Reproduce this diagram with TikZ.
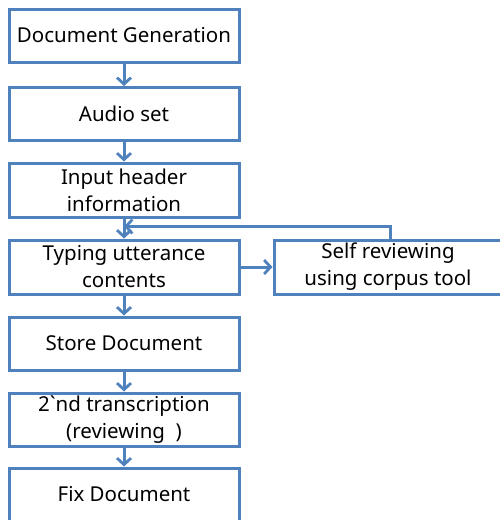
\documentclass[tikz,border=0pt]{standalone}
\usepackage{fontspec}
\setmainfont{Noto Sans}
% same face without the TeX quote mapping, so a grave accent prints as typed
\newfontfamily\plainsans{Noto Sans}[Ligatures=TeXOff]
\usetikzlibrary{arrows.meta}
\definecolor{flowblue}{RGB}{79,129,189}
\tikzset{
  stepbox/.style={draw=flowblue, line width=3pt, fill=white, minimum width=230pt,
    minimum height=53pt, inner sep=0pt, align=center,
    font=\fontsize{20.5}{27}\selectfont},
  flow/.style={draw=flowblue, line width=3pt,
    -{Straight Barb[length=6.5pt,width=14pt,line width=2.8pt]}}
}
\begin{document}
\begin{tikzpicture}[x=1pt,y=-1pt]
\useasboundingbox (0,0) rectangle (500,520);
\node[stepbox] (gen)   at (124,35.5) {Document Generation};
\node[stepbox] (audio) at (124,114) {Audio set};
\node[stepbox, minimum height=54pt] (head) at (124,190) {Input header\\information};
\node[stepbox, minimum height=54pt] (type) at (124,267) {Typing utterance\\contents};
\node[stepbox, minimum width=228pt, minimum height=54pt] (self) at (388,267) {Self reviewing\\using corpus tool};
\node[stepbox] (store) at (124,343.5) {Store Document};
\node[stepbox] (trans) at (124,419.5) {{\plainsans 2`nd} transcription\\(reviewing~~)};
\node[stepbox] (fix)   at (124,494.5) {Fix Document};
\coordinate (back) at (390,226.5);
\draw[flow] (gen) -- (audio);
\draw[flow] (audio) -- (head);
\draw[flow] (head) -- (type);
\draw[flow] (type) -- (self);
\draw[flow] (type) -- (store);
\draw[flow] (store) -- (trans);
\draw[flow] (trans) -- (fix);
\draw[flow] (self.north -| back) -- (back) -- (back -| type.north);
\end{tikzpicture}
\end{document}
